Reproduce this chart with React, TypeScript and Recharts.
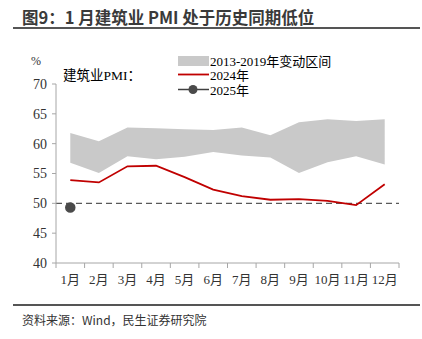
import { ComposedChart, Area, Line, XAxis, YAxis, ReferenceLine } from "recharts";

// 月份序号（1..12）
const months = [1, 2, 3, 4, 5, 6, 7, 8, 9, 10, 11, 12];
// 2013-2019 年变动区间
const bandLow = [56.8, 55.1, 57.9, 57.4, 57.8, 58.6, 58.0, 57.7, 55.1, 56.9, 57.9, 56.5];
const bandHigh = [61.8, 60.4, 62.7, 62.6, 62.4, 62.3, 62.7, 61.4, 63.6, 64.1, 63.8, 64.1];
// 建筑业 PMI
const pmi2024 = [53.9, 53.5, 56.2, 56.3, 54.4, 52.3, 51.2, 50.6, 50.7, 50.4, 49.7, 53.2];
const pmi2025 = [49.3];
const yTicks = [40, 45, 50, 55, 60, 65, 70];
const xTicks = [0.5, 1.5, 2.5, 3.5, 4.5, 5.5, 6.5, 7.5, 8.5, 9.5, 10.5, 11.5, 12.5];

const data = months.map((m, i) => ({
  m,
  band: [bandLow[i], bandHigh[i]],
  y2024: pmi2024[i],
  y2025: pmi2025[i] ?? null,
}));

const W = 422;
const H = 339;
const PLOT_W = 343;
const HALF_STEP = PLOT_W / 24;
const FONT = "'Liberation Serif', 'Times New Roman', 'Noto Sans CJK SC', serif";
const AXIS = "#a6a6a6";

const MonthTick = (props: any) => {
  const { x, y, payload } = props;
  if (payload.value > 12) return null;
  return (
    <text x={x + HALF_STEP} y={y + 14} textAnchor="middle" fontSize={13} fill="#333" fontFamily={FONT}>
      {`${payload.value + 0.5}月`}
    </text>
  );
};

export default function App() {
  return (
    <div style={{ position: "absolute", left: 0, top: 0, width: W, height: H, background: "#fff" }}>
      <div
        style={{
          position: "absolute",
          left: 22,
          top: 5,
          fontFamily: "'Noto Sans CJK SC', sans-serif",
          fontWeight: 700,
          fontSize: 16.5,
          color: "#3a3a3a",
          whiteSpace: "nowrap",
        }}
      >
        图9：1 月建筑业 PMI 处于历史同期低位
      </div>
      <div style={{ position: "absolute", left: 13, top: 27, width: 407, height: 2, background: "#555" }} />

      <ComposedChart
        width={W}
        height={H}
        data={data}
        margin={{ top: 84, right: 23, bottom: 46, left: 26 }}
        style={{ position: "absolute", left: 0, top: 0 }}
      >
        <XAxis
          dataKey="m"
          type="number"
          domain={[0.5, 12.5]}
          ticks={xTicks}
          interval={0}
          height={30}
          tick={<MonthTick />}
          tickSize={5}
          stroke={AXIS}
          axisLine={{ stroke: AXIS }}
          tickLine={{ stroke: AXIS }}
        />
        <YAxis
          domain={[40, 70]}
          ticks={yTicks}
          width={30}
          tickSize={4}
          tickMargin={5}
          stroke={AXIS}
          tick={{ fill: "#333", fontSize: 14, fontFamily: FONT }}
        />
        <Area
          dataKey="band"
          stroke="none"
          fill="#c9c9c9"
          fillOpacity={1}
          isAnimationActive={false}
        />
        <ReferenceLine y={50} stroke="#595959" strokeWidth={1.3} strokeDasharray="6 4" />
        <Line
          dataKey="y2024"
          stroke="#c00000"
          strokeWidth={1.8}
          dot={false}
          isAnimationActive={false}
        />
        <Line
          dataKey="y2025"
          stroke="#404040"
          strokeWidth={1.5}
          dot={{ r: 4.5, fill: "#4a4a4a", stroke: "#4a4a4a" }}
          isAnimationActive={false}
        />
      </ComposedChart>

      <svg width={W} height={H} style={{ position: "absolute", left: 0, top: 0, pointerEvents: "none" }}>
        <text x={31} y={65} fontSize={12} fill="#333" fontFamily={FONT}>%</text>
        <text x={63} y={80} fontSize={13.5} fill="#000" fontFamily={FONT}>建筑业PMI：</text>
        <rect x={178} y={56} width={31} height={10} fill="#c9c9c9" />
        <text x={210} y={66} fontSize={13} fill="#000" fontFamily={FONT}>2013-2019年变动区间</text>
        <line x1={178} x2={209} y1={74.5} y2={74.5} stroke="#c00000" strokeWidth={1.8} />
        <text x={210} y={80} fontSize={13} fill="#000" fontFamily={FONT}>2024年</text>
        <line x1={178} x2={209} y1={89.5} y2={89.5} stroke="#404040" strokeWidth={1.5} />
        <circle cx={193} cy={89.5} r={4.5} fill="#4a4a4a" />
        <text x={210} y={95} fontSize={13} fill="#000" fontFamily={FONT}>2025年</text>
      </svg>

      <div style={{ position: "absolute", left: 13, top: 304, width: 407, height: 2, background: "#555" }} />
      <div
        style={{
          position: "absolute",
          left: 22,
          top: 311,
          fontFamily: "'Noto Sans CJK SC', sans-serif",
          fontSize: 12,
          color: "#333",
          whiteSpace: "nowrap",
        }}
      >
        资料来源：Wind，民生证券研究院
      </div>
    </div>
  );
}
